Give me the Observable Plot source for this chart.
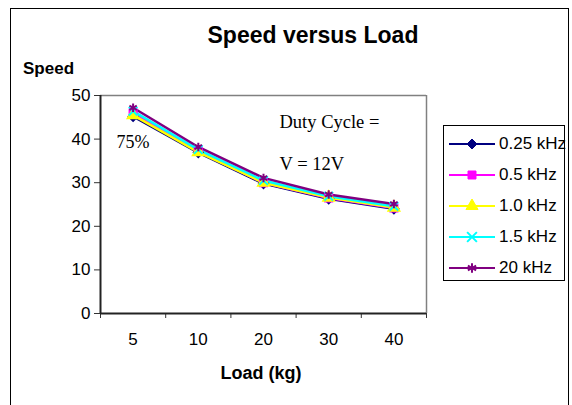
<!DOCTYPE html>
<html>
<head>
<meta charset="utf-8">
<script src="https://cdn.jsdelivr.net/npm/d3@7"></script>
<script src="https://cdn.jsdelivr.net/npm/@observablehq/plot@0.6"></script>
<style>
  body { margin: 0; background: white; }
  #wrap { position: relative; width: 572px; height: 405px; overflow: hidden; font-family: Arial, "Liberation Sans", sans-serif; }
  #frame { position: absolute; left: 10px; top: 8px; width: 559px; height: 420px; border: 1px solid black; box-sizing: border-box; }
  .lbl { position: absolute; font-weight: bold; color: black; white-space: nowrap; }
  #legend { position: absolute; left: 443px; top: 125px; width: 122px; height: 156px; border: 1px solid black; box-sizing: border-box; background: white; }
  .row { position: absolute; left: 0; height: 24px; width: 140px; }
  .row svg { position: absolute; left: 5px; top: 2px; }
  .row span { position: absolute; left: 55px; top: 0; font-size: 17px; line-height: 24px; white-space: nowrap; }
</style>
</head>
<body>
<div id="wrap">
  <div id="frame"></div>
  <div id="chart" style="position:absolute;left:0;top:0;"></div>
  <div class="lbl" style="left:113px;width:400px;text-align:center;top:21px;font-size:23px;line-height:28px;">Speed versus Load</div>
  <div class="lbl" style="left:23px;top:59px;font-size:17px;line-height:20px;">Speed</div>
  <div class="lbl" style="left:161px;width:200px;text-align:center;top:362px;font-size:18px;line-height:22px;">Load (kg)</div>
  <div id="legend"></div>
</div>
<script>
const loads = ["5", "10", "20", "30", "40"];
const seriesNames = ["0.25 kHz", "0.5 kHz", "1.0 kHz", "1.5 kHz", "20 kHz"];
const s025 = [45.2, 36.9, 29.8, 26.3, 24.0];
const s05  = [46.0, 37.2, 30.0, 26.5, 24.2];
const s10  = [45.5, 37.0, 30.0, 26.6, 24.3];
const s15  = [46.4, 37.6, 30.5, 26.9, 24.6];
const s20  = [47.2, 38.2, 31.1, 27.3, 25.1];
const yTicks = [0, 10, 20, 30, 40, 50];
const colors = ["#000080", "#FF00FF", "#FFFF00", "#00FFFF", "#800080"];
const symbols = ["diamond2", "square", "triangle", "times", "asterisk"];

const allSeries = [s025, s05, s10, s15, s20];
const data = allSeries.flatMap((vals, si) =>
  vals.map((v, i) => ({ s: seriesNames[si], load: loads[i], xi: i + 0.5, v }))
);

const serif = "'Liberation Serif', 'Times New Roman', serif";
const chart = Plot.plot({
  width: 572,
  height: 405,
  marginLeft: 100,
  marginRight: 146,
  marginTop: 95,
  marginBottom: 92,
  style: { fontFamily: "Arial, 'Liberation Sans', sans-serif", fontSize: "17px", background: "transparent", color: "black", overflow: "visible" },
  x: { domain: [0, loads.length], axis: null },
  y: { domain: [0, 50], axis: null },
  color: { domain: seriesNames, range: colors },
  symbol: { domain: seriesNames, range: symbols },
  marks: [
    Plot.ruleY([50], { stroke: "#808080", strokeWidth: 1.5 }),
    Plot.ruleX([loads.length], { stroke: "#808080", strokeWidth: 1.5 }),
    Plot.axisY({ ticks: yTicks, tickSize: 6, tickPadding: 4, tickFormat: d => String(d), label: null, stroke: "#333", fontSize: 17 }),
    Plot.axisX({ ticks: d3.range(loads.length + 1), tickSize: 5, tickFormat: () => "", label: null, stroke: "#333" }),
    Plot.axisX({ ticks: loads.map((d, i) => i + 0.5), tickSize: 0, tickPadding: 19, tickFormat: v => loads[Math.floor(v)], label: null, fontSize: 17 }),
    Plot.ruleX([0], { stroke: "#222", strokeWidth: 2 }),
    Plot.ruleY([0], { stroke: "#222", strokeWidth: 2 }),
    Plot.line(data, { x: "xi", y: "v", z: "s", stroke: "s", strokeWidth: 2.5 }),
    Plot.dot(data, { x: "xi", y: "v", symbol: "s", stroke: "s", fill: "s", r: 4, strokeWidth: 2 }),
    Plot.text(["Duty Cycle ="], { frameAnchor: "top-left", dx: 179, dy: 19, textAnchor: "start", fontFamily: serif, fontSize: 18.5 }),
    Plot.text(["V = 12V"], { frameAnchor: "top-left", dx: 179, dy: 61, textAnchor: "start", fontFamily: serif, fontSize: 18.5 }),
    Plot.text(["75%"], { frameAnchor: "top-left", dx: 16, dy: 40, textAnchor: "start", fontFamily: serif, fontSize: 18 })
  ]
});
document.getElementById("chart").appendChild(chart);

// Legend
const legend = document.getElementById("legend");
const symMap = { diamond2: d3.symbolDiamond2, square: d3.symbolSquare, triangle: d3.symbolTriangle, times: d3.symbolTimes, asterisk: d3.symbolAsterisk };
seriesNames.forEach((name, i) => {
  const row = document.createElement("div");
  row.className = "row";
  row.style.top = (6 + 31 * i) + "px";
  const svg = d3.create("svg").attr("width", 48).attr("height", 20);
  svg.append("line").attr("x1", 0).attr("x2", 46).attr("y1", 10).attr("y2", 10)
    .attr("stroke", colors[i]).attr("stroke-width", 2);
  const open = symbols[i] === "times" || symbols[i] === "asterisk";
  svg.append("path").attr("transform", "translate(23,10)")
    .attr("d", d3.symbol(symMap[symbols[i]], Math.PI * 4.5 * 4.5)())
    .attr("fill", open ? "none" : colors[i]).attr("stroke", colors[i]).attr("stroke-width", open ? 2 : 1);
  row.appendChild(svg.node());
  const sp = document.createElement("span");
  sp.textContent = name;
  row.appendChild(sp);
  legend.appendChild(row);
});
</script>
</body>
</html>
